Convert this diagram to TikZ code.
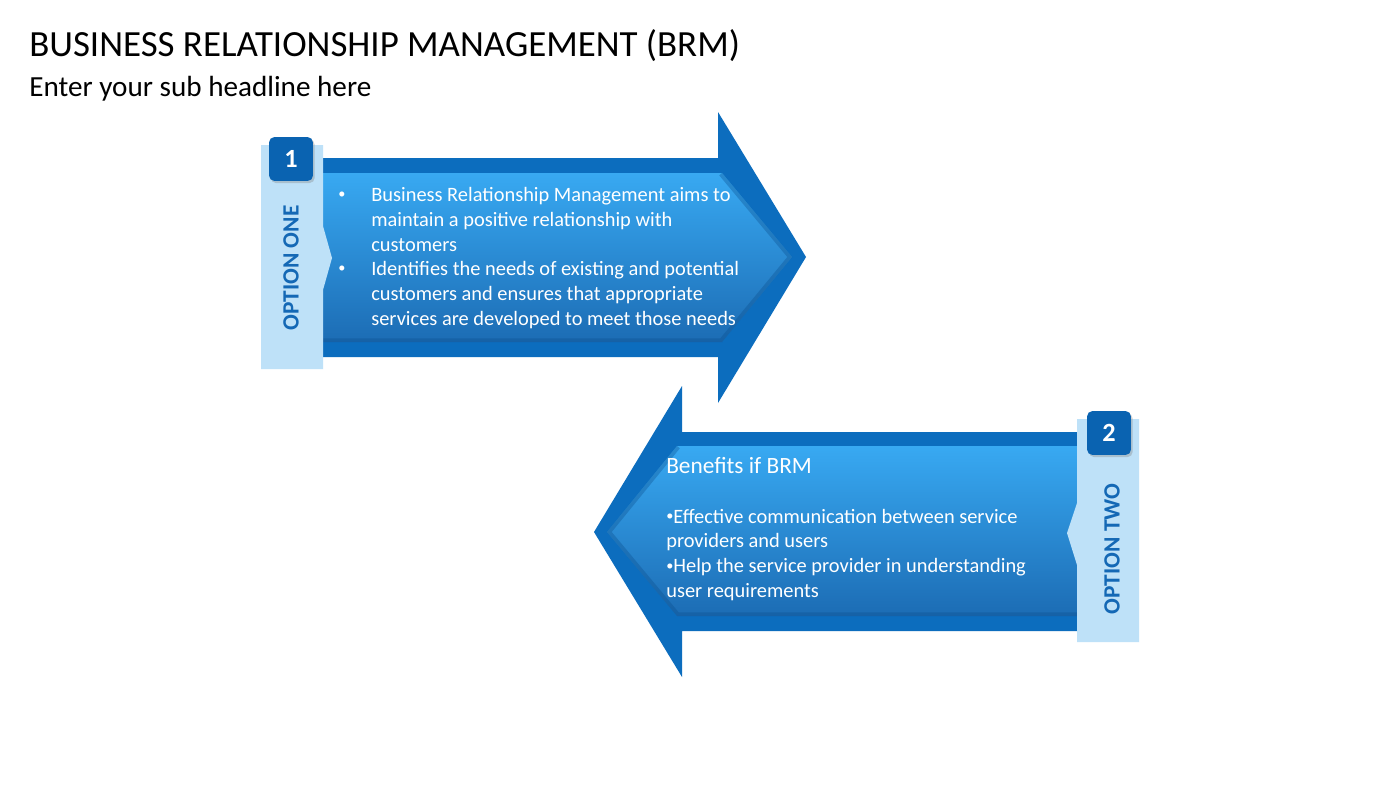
\documentclass[tikz,border=0pt]{standalone}
\usepackage{fontspec}
\setmainfont{Carlito}
\usetikzlibrary{shadows}
\definecolor{arrowdark}{HTML}{0C6DBE}
\definecolor{arrowtop}{HTML}{38A9F2}
\definecolor{arrowbottom}{HTML}{1C6CB4}
\definecolor{arrowshade}{HTML}{0B4F8E}
\definecolor{striplight}{HTML}{BEE1F8}
\definecolor{numblue}{HTML}{0A63B1}
\definecolor{labelblue}{HTML}{1468B5}
\newcommand{\smalldot}{\raisebox{0.1em}{\scalebox{0.7}{•}}}

\begin{document}
\begin{tikzpicture}[x=0.6857pt,y=-0.6857pt]
	\tikzset{outer/.style = {fill=arrowdark}}
	\tikzset{inner/.style = {top color=arrowtop, bottom color=arrowbottom}}
	\tikzset{edgeshade/.style = {draw=arrowshade, line width=5pt, opacity=0.35, line join=round}}
	\tikzset{strip/.style = {fill=striplight}}
	\tikzset{numbox/.style = {fill=numblue, rounded corners=3.5pt, minimum size=30pt, inner sep=0pt, text=white, font=\fontsize{18}{21}\bfseries\selectfont, drop shadow={shadow xshift=1.2pt, shadow yshift=-1.5pt, opacity=0.35}}}
	\tikzset{option/.style = {rotate=90, text=labelblue, font=\fontsize{16}{19}\bfseries\selectfont, inner sep=0pt}}
	\tikzset{body/.style = {anchor=north west, align=left, text=white, inner sep=0pt, font=\fontsize{14}{17}\selectfont}}
	\tikzset{dot/.style = {anchor=base, text=white, inner sep=0pt, font=\fontsize{14}{17}\selectfont}}

	\useasboundingbox[fill=white] (0,0) rectangle (1400,790);

	\node[anchor=base west, inner sep=0pt, font=\fontsize{25.3}{30}\selectfont] (title) at (29,56) {BUSINESS RELATIONSHIP MANAGEMENT (BRM)};
	\node[anchor=base west, inner sep=0pt, font=\fontsize{20}{24}\selectfont] (subtitle) at (29,96) {Enter your sub headline here};

	% option one, pointing right
	\fill[outer] (318,158) -- (718,158) -- (718,112) -- (806,257) -- (718,403) -- (718,357) -- (318,357) -- cycle;
	\shade[inner] (318,173) -- (722,173) -- (792,257) -- (722,342) -- (318,342) -- cycle;
	\begin{scope}
		\clip (318,173) -- (722,173) -- (792,257) -- (722,342) -- (318,342) -- cycle;
		\draw[edgeshade] (318,342) -- (722,342) -- (792,257) -- (722,173);
	\end{scope}
	\fill[strip] (261,145) -- (323,145) -- (323,226) -- (332,258) -- (323,290) -- (323,369) -- (261,369) -- cycle;
	\node[numbox] (num1) at (291,159) {1};
	\node[option] (opt1) at (291,268) {OPTION ONE};
	\node[dot] (dot1) at (342,200.5) {\smalldot};
	\node[dot] (dot2) at (342,274.5) {\smalldot};
	\node[body] (txt1) at (371,187) {Business Relationship Management aims to\\maintain a positive relationship with\\customers\\Identifies the needs of existing and potential\\customers and ensures that appropriate\\services are developed to meet those needs};

	% option two, pointing left
	\fill[outer] (1082,432) -- (682,432) -- (682,386) -- (594,532) -- (682,677) -- (682,631) -- (1082,631) -- cycle;
	\shade[inner] (1082,446) -- (677,446) -- (607,532) -- (677,616) -- (1082,616) -- cycle;
	\begin{scope}
		\clip (1082,446) -- (677,446) -- (607,532) -- (677,616) -- (1082,616) -- cycle;
		\draw[edgeshade] (1082,616) -- (677,616) -- (607,532) -- (677,446);
	\end{scope}
	\fill[strip] (1077,419) -- (1139,419) -- (1139,642) -- (1077,642) -- (1077,565) -- (1067,533) -- (1077,503) -- cycle;
	\node[numbox] (num2) at (1109,433) {2};
	\node[option] (opt2) at (1112,549) {OPTION TWO};
	\node[body] (txt2) at (666,457) {{\fontsize{16}{17}\selectfont Benefits if BRM}\\[17pt]\smalldot Effective communication between service\\providers and users\\\smalldot Help the service provider in understanding\\user requirements};
\end{tikzpicture}
\end{document}
